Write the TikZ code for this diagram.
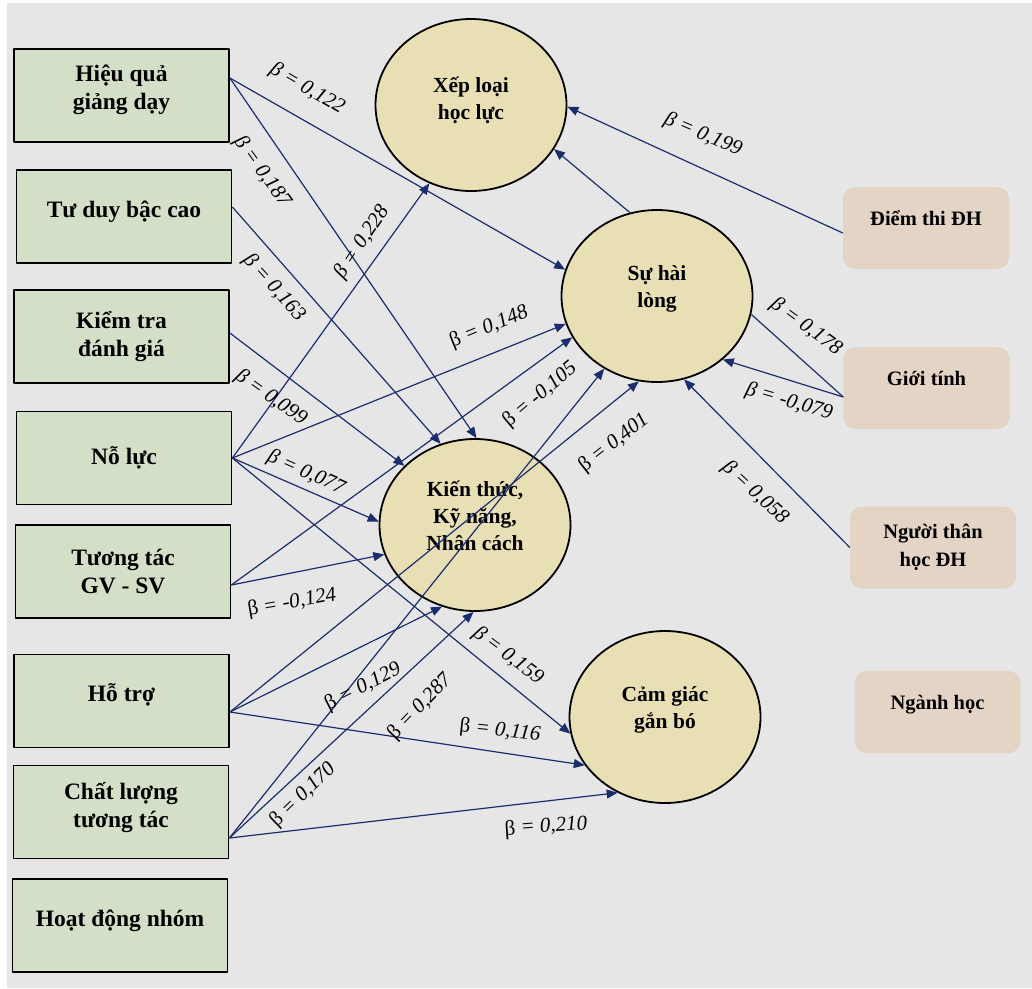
\documentclass[tikz,border=0pt]{standalone}
\usepackage{fontspec}
\setmainfont{Liberation Serif}
\usetikzlibrary{shapes.geometric,arrows.meta}
\definecolor{nenxam}{HTML}{E6E6E6}
\definecolor{xanhla}{HTML}{D4DFC8}
\definecolor{vangnhat}{HTML}{E8DFB5}
\definecolor{hongnhat}{HTML}{E4D4C5}
\definecolor{xanhdam}{HTML}{1C2D6E}
\tikzset{
  bien/.style={draw=black, line width=1.8pt, fill=xanhla, minimum width=215pt,
    minimum height=93pt, inner sep=2pt, align=center,
    font=\fontsize{23.5}{28}\selectfont\bfseries},
  tieman/.style={ellipse, draw=black, line width=1.8pt, fill=vangnhat,
    minimum width=191pt, minimum height=172pt, inner sep=0pt, align=center,
    font=\fontsize{21.5}{27}\selectfont\bfseries},
  kiemsoat/.style={rounded corners=12pt, fill=hongnhat, minimum width=166pt,
    minimum height=82pt, align=center, font=\fontsize{20.5}{28}\selectfont\bfseries},
  % đẩy chữ lên trên tâm ô
  chulen/.style={execute at end node={\rule[-#1]{0pt}{1pt}}},
  duong/.style={draw=xanhdam, line width=1.2pt, -{Triangle[length=11pt,width=9pt]}},
  tron/.style={draw=xanhdam, line width=1.2pt},
  heso/.style={font=\fontsize{21}{23}\selectfont\itshape, inner sep=0pt}
}
\begin{document}
\begin{tikzpicture}[x=1pt,y=-1pt,line join=round]
  \useasboundingbox (0,0) rectangle (1032,988);
  \fill[white] (0,0) rectangle (1032,988);
  \fill[nenxam] (7,3) rectangle (1032,988);

  % các biến độc lập
  \node[bien,chulen=16pt] (HQ) at (121.5,95.5) {Hiệu quả\\giảng dạy};
  \node[bien,chulen=14pt] (TD) at (124,216.5) {Tư duy bậc cao};
  \node[bien] (KTDG) at (121.5,336.5) {Kiểm tra\\đánh giá};
  \node[bien] (NL) at (124,458) {Nỗ lực};
  \node[bien] (TT) at (123,571.5) {Tương tác\\GV - SV};
  \node[bien,chulen=16pt] (HT) at (121.5,701) {Hỗ trợ};
  \node[bien,chulen=15pt] (CL) at (121,812) {Chất lượng\\tương tác};
  \node[bien,chulen=15pt] (HD) at (120,925.5) {Hoạt động nhóm};

  % các biến phụ thuộc
  \node[tieman,chulen=14pt] (XL) at (471,105) {Xếp loại\\học lực};
  \node[tieman,chulen=18pt] (SHL) at (657,296) {Sự hài\\lòng};
  \node[tieman,chulen=18pt] (KTKN) at (475,525) {Kiến thức,\\Kỹ năng,\\Nhân cách};
  \node[tieman,chulen=18pt] (CG) at (665,717) {Cảm giác\\gắn bó};

  % biến kiểm soát
  \node[kiemsoat,chulen=19pt] (DT) at (926,228) {Điểm thi ĐH};
  \node[kiemsoat,chulen=19pt] (GT) at (926.5,388) {Giới tính};
  \node[kiemsoat] (NT) at (933,547.5) {Người thân\\học ĐH};
  \node[kiemsoat,chulen=19pt] (NH) at (937.5,712) {Ngành học};

  % các đường tác động
  \draw[duong] ([yshift=17.5pt]HQ.east) -- (SHL.164);
  \draw[duong] ([yshift=17.5pt]HQ.east) -- (KTKN.89);
  \draw[duong] ([yshift=9.5pt]TD.east) -- (KTKN.113);
  \draw[duong] ([yshift=3.5pt]KTDG.east) -- (KTKN.140);
  \draw[duong] (NL.east) -- (XL.242);
  \draw[duong] (NL.east) -- (SHL.197);
  \draw[duong] (NL.east) -- (KTKN.178);
  \draw[duong] (NL.east) -- (CG.190);
  \draw[duong] ([yshift=-13.5pt]TT.east) -- (SHL.206);
  \draw[duong] ([yshift=-13.5pt]TT.east) -- (KTKN.198);
  \draw[duong] ([yshift=-11pt]HT.east) -- (KTKN.248);
  \draw[duong] ([yshift=-11pt]HT.east) -- (SHL.258);
  \draw[duong] ([yshift=-11pt]HT.east) -- (CG.211);
  \draw[duong] ([yshift=-26pt]CL.east) -- (KTKN.269);
  \draw[duong] ([yshift=-26pt]CL.east) -- (SHL.234);
  \draw[duong] ([yshift=-26pt]CL.east) -- (CG.238);
  \draw[duong] ([yshift=-5pt]DT.west) -- (XL.-1);
  \draw[duong] (SHL.108) -- (XL.-28);
  \draw[duong] ([yshift=-9pt]GT.west) -- (SHL.316);
  \draw[tron] ([yshift=-9pt]GT.west) -- (SHL.349);
  \draw[duong] (NT.west) -- (SHL.288);

  % hệ số beta
  \node[heso,rotate=-30] (h1) at (307,89) {β = 0,122};
  \node[heso,rotate=-54] (h2) at (262,172) {β = 0,187};
  \node[heso,rotate=-48] (h3) at (274,288) {β = 0,163};
  \node[heso,rotate=56] (h4) at (362,242) {β = 0,228};
  \node[heso,rotate=-35] (h5) at (271,398) {β = 0,099};
  \node[heso,rotate=22] (h6) at (489,327) {{\upshape β} = 0,148};
  \node[heso,rotate=-24] (h7) at (306,473) {β = 0,077};
  \node[heso,rotate=40] (h8) at (540,395) {{\upshape β} = -0,105};
  \node[heso,rotate=38] (h9) at (614,443) {{\upshape β} = 0,401};
  \node[heso,rotate=10] (h10) at (292,603) {{\upshape β} = -0,124};
  \node[heso,rotate=-37] (h11) at (508,656) {β = 0,159};
  \node[heso,rotate=27] (h12) at (363,687) {{\upshape β} = 0,129};
  \node[heso,rotate=46] (h13) at (420,707) {{\upshape β} = 0,287};
  \node[heso,rotate=44] (h14) at (303,795) {{\upshape β} = 0,170};
  \node[heso,rotate=-6] (h15) at (500,731) {{\upshape β} = 0,116};
  \node[heso,rotate=4] (h16) at (546,827) {{\upshape β} = 0,210};
  \node[heso,rotate=-23] (h17) at (703,135) {β = 0,199};
  \node[heso,rotate=-36] (h18) at (806,327) {β = 0,178};
  \node[heso,rotate=-16] (h19) at (789,402) {β = -0,079};
  \node[heso,rotate=-43] (h20) at (755,493) {β = 0,058};
\end{tikzpicture}
\end{document}
